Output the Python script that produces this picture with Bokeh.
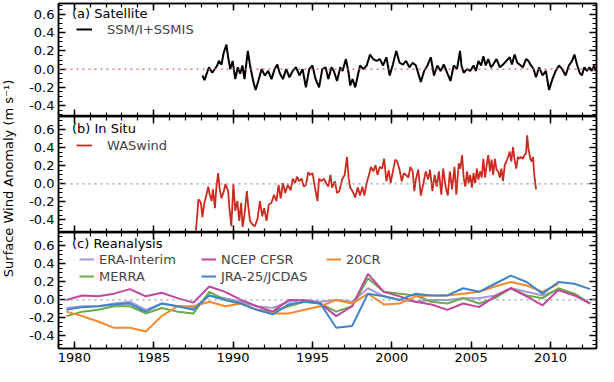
import math
from bokeh.plotting import figure
from bokeh.layouts import column, row
from bokeh.models import (Range1d, LinearAxis, SingleIntervalTicker, PrintfTickFormatter,
                          CustomJSTickFormatter, Span, Label, Legend, LegendItem)
from bokeh.embed import file_html
from bokeh.resources import INLINE

# ---------------- data ----------------
SAT_YEAR = [1988.07, 1988.2, 1988.48, 1988.69, 1989.0, 1989.1, 1989.27, 1989.41, 1989.58, 1989.68,
            1989.82, 1989.97, 1990.14, 1990.3, 1990.45, 1990.59, 1990.72, 1990.93, 1991.07, 1991.28,
            1991.42, 1991.59, 1991.8, 1992.0, 1992.21, 1992.42, 1992.62, 1992.79, 1992.93, 1993.14,
            1993.35, 1993.55, 1993.76, 1993.97, 1994.18, 1994.38, 1994.59, 1994.8, 1995.0, 1995.2,
            1995.42, 1995.62, 1995.83, 1996.0, 1996.2, 1996.35, 1996.55, 1996.76, 1996.9, 1997.11,
            1997.28, 1997.38, 1997.53, 1997.7, 1997.86, 1998.0, 1998.21, 1998.42, 1998.63, 1998.83,
            1999.04, 1999.25, 1999.45, 1999.66, 1999.87, 2000.07, 2000.28, 2000.49, 2000.7, 2000.9,
            2001.11, 2001.32, 2001.52, 2001.83, 2002.04, 2002.25, 2002.46, 2002.66, 2002.87, 2003.08,
            2003.28, 2003.49, 2003.7, 2003.9, 2004.11, 2004.3, 2004.39, 2004.53, 2004.74, 2004.94,
            2005.15, 2005.3, 2005.46, 2005.63, 2005.77, 2005.92, 2006.08, 2006.25, 2006.39, 2006.6,
            2006.81, 2007.01, 2007.22, 2007.43, 2007.57, 2007.74, 2007.91, 2008.05, 2008.26, 2008.46,
            2008.61, 2008.77, 2008.94, 2009.09, 2009.29, 2009.5, 2009.71, 2009.91, 2010.12, 2010.33,
            2010.53, 2010.74, 2010.95, 2011.16, 2011.36, 2011.51, 2011.67, 2011.84, 2011.98, 2012.13,
            2012.3, 2012.46, 2012.6, 2012.75, 2012.85]
SAT_VALUE = [-0.07, -0.12, 0.02, -0.04, 0.04, 0.09, 0.05, 0.18, 0.27, 0.14,
             0.0, 0.09, -0.11, 0.02, -0.05, 0.04, -0.11, 0.2, 0.04, -0.14,
             -0.23, -0.13, 0.0, -0.07, -0.02, -0.11, 0.0, 0.05, -0.04, -0.11,
             0.0, -0.09, -0.02, 0.02, -0.07, 0.0, -0.2, 0.0, 0.04, -0.11,
             -0.2, 0.0, 0.02, -0.11, 0.02, -0.02, -0.13, 0.02, -0.02, 0.11,
             -0.04, -0.18, -0.11, -0.2, -0.07, 0.04, 0.0, 0.04, 0.16, 0.11,
             0.09, 0.11, 0.04, 0.13, -0.07, 0.05, 0.2, 0.07, 0.05, 0.09,
             0.02, 0.07, 0.04, -0.14, -0.02, 0.04, 0.13, -0.07, 0.04, -0.02,
             0.05, -0.04, -0.13, 0.04, 0.0, 0.2, 0.04, -0.04, 0.0, -0.02,
             0.04, -0.02, 0.09, 0.04, 0.14, 0.04, 0.11, 0.02, 0.05, 0.11,
             0.02, 0.05, 0.09, 0.13, 0.05, 0.16, 0.07, 0.05, 0.02, 0.11,
             0.09, 0.04, 0.0, -0.09, 0.02, -0.07, -0.02, -0.23, -0.11, -0.02,
             0.04, 0.0, -0.07, 0.04, 0.09, 0.16, 0.05, -0.04, -0.07, 0.02,
             -0.02, 0.02, -0.02, 0.04, -0.02]

INSITU_YEAR = [1987.66, 1987.82, 1987.97, 1988.07, 1988.17, 1988.32, 1988.44, 1988.53, 1988.65, 1988.73,
               1988.86, 1988.94, 1989.06, 1989.15, 1989.27, 1989.42, 1989.52, 1989.69, 1989.77, 1989.89,
               1990.02, 1990.14, 1990.27, 1990.39, 1990.51, 1990.6, 1990.72, 1990.87, 1990.97, 1991.07,
               1991.22, 1991.38, 1991.55, 1991.69, 1991.84, 1991.96, 1992.11, 1992.25, 1992.42, 1992.58,
               1992.73, 1992.87, 1993.0, 1993.14, 1993.29, 1993.45, 1993.62, 1993.76, 1993.91, 1994.03,
               1994.18, 1994.32, 1994.45, 1994.59, 1994.74, 1994.86, 1995.01, 1995.15, 1995.32, 1995.42,
               1995.57, 1995.73, 1995.86, 1996.0, 1996.14, 1996.24, 1996.41, 1996.55, 1996.7, 1996.87,
               1997.03, 1997.18, 1997.28, 1997.38, 1997.53, 1997.69, 1997.86, 1998.0, 1998.15, 1998.27,
               1998.42, 1998.56, 1998.69, 1998.83, 1998.98, 1999.1, 1999.25, 1999.39, 1999.52, 1999.66,
               1999.81, 1999.93, 2000.07, 2000.22, 2000.34, 2000.49, 2000.63, 2000.76, 2000.9, 2001.05,
               2001.17, 2001.32, 2001.42, 2001.52, 2001.67, 2001.83, 2002.0, 2002.14, 2002.29, 2002.41,
               2002.56, 2002.7, 2002.83, 2002.97, 2003.12, 2003.24, 2003.39, 2003.53, 2003.66, 2003.8,
               2003.95, 2004.07, 2004.22, 2004.32, 2004.43, 2004.53, 2004.63, 2004.74, 2004.84, 2004.94,
               2005.05, 2005.15, 2005.26, 2005.36, 2005.46, 2005.57, 2005.67, 2005.77, 2005.88, 2005.98,
               2006.08, 2006.19, 2006.29, 2006.39, 2006.5, 2006.6, 2006.7, 2006.81, 2006.91, 2007.01,
               2007.12, 2007.22, 2007.33, 2007.43, 2007.53, 2007.64, 2007.74, 2007.84, 2007.95, 2008.05,
               2008.15, 2008.26, 2008.36, 2008.46, 2008.53, 2008.61, 2008.73, 2008.82, 2008.9, 2008.98,
               2009.09]
INSITU_VALUE = [-0.52, -0.17, -0.21, -0.37, -0.23, -0.12, -0.03, -0.12, -0.19, -0.06,
                -0.27, -0.05, 0.12, -0.05, -0.16, -0.08, 0.0, -0.08, -0.27, -0.47,
                0.0, -0.3, -0.19, -0.41, -0.21, -0.48, -0.34, -0.08, -0.27, -0.41,
                -0.45, -0.47, -0.38, -0.19, -0.36, -0.27, -0.41, -0.23, -0.21, -0.12,
                -0.19, -0.01, -0.16, 0.01, -0.1, -0.01, -0.07, 0.06, 0.01, 0.08,
                0.03, 0.06, -0.03, -0.01, 0.13, 0.1, 0.12, -0.03, -0.19, 0.06,
                0.03, 0.06, 0.01, -0.03, 0.1, -0.04, 0.03, -0.1, -0.08, 0.05,
                0.1, 0.3, 0.07, -0.04, -0.08, -0.15, -0.04, -0.13, -0.03, -0.13,
                0.01, 0.1, 0.19, 0.14, 0.21, 0.1, 0.19, 0.17, 0.28, 0.03,
                0.15, 0.01, 0.14, 0.27, 0.25, 0.16, 0.03, 0.12, 0.1, 0.07,
                0.19, 0.14, -0.08, 0.05, 0.16, -0.13, 0.01, 0.14, 0.05, 0.16,
                -0.08, 0.1, -0.03, 0.14, -0.12, 0.17, -0.03, -0.13, 0.14, -0.06,
                0.19, -0.12, 0.23, 0.17, 0.32, 0.07, -0.03, 0.14, 0.01, 0.1,
                -0.04, 0.12, 0.01, 0.17, 0.05, 0.14, 0.07, 0.28, 0.07, 0.21,
                0.32, 0.14, 0.27, 0.1, 0.28, 0.16, 0.14, 0.07, 0.17, 0.03,
                0.21, 0.25, 0.3, 0.36, 0.25, 0.41, 0.27, 0.17, 0.3, 0.28,
                0.3, 0.28, 0.32, 0.34, 0.54, 0.39, 0.28, 0.25, 0.3, 0.1,
                -0.06]

REAN_YEAR = [y + 0.5 for y in range(1979, 2013)]
ERA_INTERIM = [-0.09, -0.07, -0.07, -0.04, -0.02, -0.11, -0.04, -0.07, -0.09, 0.05,
               0.02, -0.02, -0.07, -0.09, -0.02, 0.0, -0.02, 0.0, -0.02, 0.13,
               0.04, 0.0, -0.02, 0.0, 0.0, 0.02, 0.02, 0.05, 0.13, 0.09,
               0.05, 0.11, 0.07, -0.04]
MERRA = [-0.18, -0.13, -0.11, -0.07, -0.07, -0.15, -0.09, -0.13, -0.15, 0.09,
         0.0, -0.04, -0.11, -0.13, -0.07, -0.02, -0.04, -0.13, -0.07, 0.24,
         0.09, 0.07, 0.05, -0.02, -0.04, 0.02, -0.04, 0.02, 0.13, 0.05,
         0.02, 0.13, 0.07, -0.04]
NCEP_CFSR = [0.0, 0.05, 0.04, 0.07, 0.12, 0.04, 0.08, 0.02, -0.03, 0.15,
             0.09, 0.0, -0.07, -0.13, 0.0, 0.0, -0.04, -0.18, -0.07, 0.29,
             0.09, 0.04, -0.02, -0.05, -0.11, -0.04, -0.08, 0.04, 0.13, 0.04,
             -0.06, 0.11, 0.05, -0.04]
JRA25 = [-0.11, -0.08, -0.07, -0.05, -0.04, -0.13, -0.04, -0.07, -0.11, 0.05,
         0.0, -0.04, -0.11, -0.16, -0.05, -0.02, -0.04, -0.31, -0.29, 0.07,
         0.04, 0.0, 0.07, 0.05, 0.05, 0.13, 0.09, 0.18, 0.27, 0.2,
         0.07, 0.2, 0.18, 0.12]
CR20 = [-0.13, -0.18, -0.24, -0.31, -0.31, -0.35, -0.18, -0.07, -0.07, -0.02,
        -0.07, -0.04, -0.11, -0.15, -0.15, -0.11, -0.07, 0.0, -0.04, 0.07,
        -0.05, -0.04, 0.04, 0.05, 0.05, 0.07, 0.09, 0.15, 0.2, 0.16,
        0.09, 0.18]

Y_TITLE = "Surface Wind Anomaly (m s\u207b\u00b9)"

FONT = "DejaVu Sans"
FS = "13px"
TITLE_W = 17
PANEL_W = 598 - TITLE_W
x_range = Range1d(1979.0, 2012.9)


def add_axis(p, side, show_labels):
    if side in ("left", "right"):
        ticker = SingleIntervalTicker(interval=0.2, num_minor_ticks=4)
    else:
        ticker = SingleIntervalTicker(interval=5, num_minor_ticks=5)
    ax = LinearAxis(ticker=ticker)
    ax.axis_line_width = 1.5
    ax.major_tick_line_width = 1.5
    ax.minor_tick_line_width = 1.2
    ax.major_tick_in = 7
    ax.major_tick_out = 0
    ax.minor_tick_in = 4
    ax.minor_tick_out = 0
    if show_labels:
        ax.major_label_text_font = FONT
        ax.major_label_text_font_size = FS
        ax.major_label_text_color = "black"
        ax.major_label_standoff = 4
        if side == "left":
            ax.formatter = PrintfTickFormatter(format="%.1f")
    else:
        ax.formatter = CustomJSTickFormatter(code="return ''")
        ax.major_label_text_font_size = "1px"
        ax.major_label_standoff = 0
    p.add_layout(ax, side)
    return ax


def make_panel(height, yr, top_border, bottom_border, xlabels, zero_color):
    p = figure(width=PANEL_W, height=height, x_range=x_range, y_range=Range1d(*yr),
               output_backend="svg", toolbar_location=None,
               min_border_left=41, min_border_right=2,
               min_border_top=top_border, min_border_bottom=bottom_border,
               x_axis_location=None, y_axis_location=None)
    p.grid.visible = False
    p.outline_line_color = "black"
    p.outline_line_width = 1.5
    p.background_fill_color = "white"
    p.border_fill_color = "white"
    add_axis(p, "left", True)
    add_axis(p, "right", False)
    add_axis(p, "above", False)
    add_axis(p, "below", xlabels)
    p.add_layout(Span(location=0, dimension="width", line_color=zero_color,
                      line_dash="2 4", line_width=1.3))
    return p


def title(p, x, y, text):
    p.add_layout(Label(x=x, y=y, text=text, text_font=FONT, text_font_size=FS,
                       text_baseline="middle", text_color="black"))


def legend(p, items, loc, glyph_w, standoff):
    lg = Legend(items=items, location=loc, border_line_alpha=0, background_fill_alpha=0,
                padding=0, margin=0, spacing=1, glyph_height=16, label_height=16,
                glyph_width=glyph_w, label_standoff=standoff,
                label_text_font=FONT, label_text_font_size=FS)
    p.add_layout(lg)


# Shared y-axis title in its own narrow strip
pt = figure(width=TITLE_W, height=366, x_range=Range1d(0, TITLE_W), y_range=Range1d(0, 366),
            output_backend="svg", toolbar_location=None, min_border=0,
            x_axis_location=None, y_axis_location=None)
pt.grid.visible = False
pt.outline_line_color = None
pt.add_layout(Label(x=8, y=188, text=Y_TITLE, angle=math.pi / 2, text_align="center",
                    text_baseline="middle", text_font=FONT, text_font_size=FS,
                    text_color="black"))

# Panel (a)
pa = make_panel(116, (-0.52, 0.72), 3, 0, False, "#c46a5a")
r_sat = pa.line(SAT_YEAR, SAT_VALUE, line_color="black", line_width=2)
title(pa, 1979.85, 0.61, "(a) Satellite")
legend(pa, [LegendItem(label="SSM/I+SSMIS", renderers=[r_sat])], (18, 79), 16, 15)

# Panel (b)
pb = make_panel(116, (-0.54, 0.75), 0, 0, False, "#8d9bab")
r_ins = pb.line(INSITU_YEAR, INSITU_VALUE, line_color="#cc2a1f", line_width=1.8)
title(pb, 1979.85, 0.62, "(b) In Situ")
legend(pb, [LegendItem(label="WASwind", renderers=[r_ins])], (18, 79), 16, 15)

# Panel (c)
pc = make_panel(134, (-0.54, 0.75), 0, 18, True, "#8d9bab")
c_era, c_merra, c_ncep, c_jra, c_20 = "#a39ad8", "#6aaa48", "#c4459f", "#3d85c6", "#f7892c"
r_era = pc.line(REAN_YEAR, ERA_INTERIM, line_color=c_era, line_width=2)
r_merra = pc.line(REAN_YEAR, MERRA, line_color=c_merra, line_width=2)
r_ncep = pc.line(REAN_YEAR, NCEP_CFSR, line_color=c_ncep, line_width=2)
r_20 = pc.line(REAN_YEAR[:len(CR20)], CR20, line_color=c_20, line_width=2)
r_jra = pc.line(REAN_YEAR, JRA25, line_color=c_jra, line_width=2)
title(pc, 1979.85, 0.63, "(c) Reanalysis")
legend(pc, [LegendItem(label="ERA-Interim", renderers=[r_era]),
            LegendItem(label="MERRA", renderers=[r_merra])], (21, 64), 15, 5)
legend(pc, [LegendItem(label="NCEP CFSR", renderers=[r_ncep]),
            LegendItem(label="JRA-25/JCDAS", renderers=[r_jra])], (143, 64), 15, 5)
legend(pc, [LegendItem(label="20CR", renderers=[r_20])], (268, 81), 15, 5)

layout = row(pt, column(pa, pb, pc, spacing=0), spacing=0)
open("out.html", "w").write(file_html(layout, INLINE))
